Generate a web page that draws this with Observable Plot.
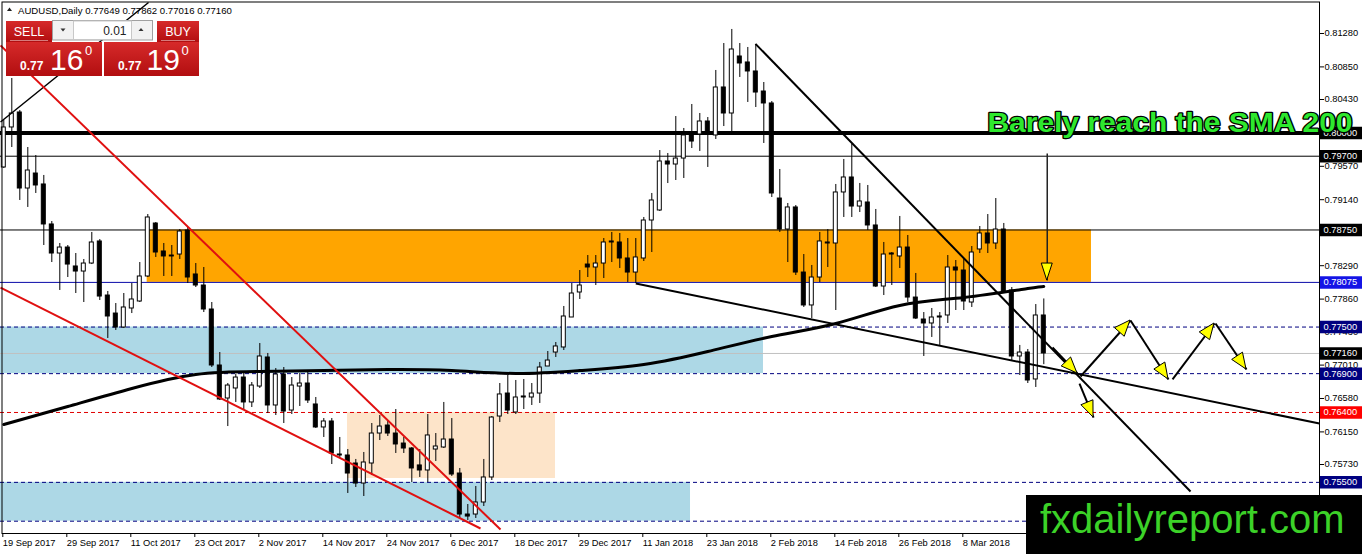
<!DOCTYPE html>
<html>
<head>
<meta charset="utf-8">
<script src="https://cdn.jsdelivr.net/npm/d3@7"></script>
<script src="https://cdn.jsdelivr.net/npm/@observablehq/plot@0.6"></script>
<style>
  body { margin: 0; background: #fff; }
  #wrap { position: relative; width: 1362px; height: 554px; overflow: hidden; }
  #over { position: absolute; left: 0; top: 0; pointer-events: none; }
  #chart svg { display: block; }
</style>
</head>
<body>
<div id="wrap">
  <div id="chart"></div>
  <svg id="over" width="1362" height="554" font-family="'Liberation Sans', Arial, sans-serif"></svg>
</div>
<script>
// ---------- DATA ----------
const symbol = "AUDUSD,Daily";
const dateLabels = ["19 Sep 2017","29 Sep 2017","11 Oct 2017","23 Oct 2017","2 Nov 2017","14 Nov 2017",
  "24 Nov 2017","6 Dec 2017","18 Dec 2017","29 Dec 2017","11 Jan 2018","23 Jan 2018","2 Feb 2018",
  "14 Feb 2018","26 Feb 2018","8 Mar 2018"];
const barsPerLabel = 8;

const opens = [
0.79555,0.80070,0.80263,0.79284,0.79477,0.79336,0.78821,0.78447,0.78524,0.78280,
0.78215,0.78318,0.78602,0.77906,0.77674,0.77494,0.77739,0.77829,0.78151,0.78833,
0.78473,0.78421,0.78434,0.78743,0.78177,0.78035,0.77726,0.77005,0.76580,0.76709,
0.76850,0.76529,0.76734,0.77108,0.76490,0.76889,0.76425,0.76734,0.76773,0.76503,
0.76207,0.76284,0.75859,0.75846,0.75743,0.75485,0.75743,0.76129,0.76232,0.76129,
0.76000,0.75936,0.75718,0.75653,0.75923,0.75949,0.76052,0.75614,0.75086,0.75086,
0.75241,0.75563,0.76348,0.76644,0.76400,0.76593,0.76593,0.76644,0.76992,0.77172,
0.77237,0.77623,0.77945,0.78305,0.78267,0.78318,0.78589,0.78589,0.78383,0.78202,
0.78383,0.78872,0.79001,0.79632,0.79593,0.79670,0.79967,0.79980,0.80147,0.79967,
0.80585,0.80250,0.80984,0.80907,0.80791,0.80533,0.80379,0.79155,0.78756,0.79040,
0.78202,0.77778,0.78138,0.78576,0.78576,0.79233,0.79426,0.79052,0.79104,0.78808,
0.78022,0.78447,0.78409,0.78524,0.77880,0.77597,0.77546,0.77623,0.77649,0.78267,
0.78228,0.77816,0.78499,0.78705,0.78576,0.78756,0.77971,0.77121,0.77172,0.76825,
0.77649];
const highs = [
0.80160,0.80701,0.80289,0.79812,0.79709,0.79452,0.78859,0.78576,0.78550,0.78447,
0.78370,0.78718,0.78627,0.77958,0.77803,0.77932,0.78061,0.78331,0.78949,0.78846,
0.78576,0.78550,0.78756,0.78782,0.78318,0.78267,0.77816,0.77172,0.76773,0.76889,
0.76902,0.76786,0.77288,0.77160,0.76966,0.76979,0.76850,0.76902,0.76915,0.76593,
0.76322,0.76322,0.76078,0.75923,0.75795,0.75885,0.76258,0.76361,0.76297,0.76438,
0.76078,0.75949,0.75923,0.76374,0.76129,0.76529,0.76322,0.75679,0.75215,0.75447,
0.75795,0.76348,0.76773,0.76876,0.76812,0.76825,0.76773,0.77044,0.77185,0.77301,
0.77765,0.78061,0.78228,0.78421,0.78421,0.78640,0.78718,0.78705,0.78640,0.78640,
0.78911,0.79220,0.79773,0.79735,0.80211,0.80057,0.80366,0.80250,0.80198,0.80804,
0.81151,0.81332,0.81151,0.81100,0.81138,0.80649,0.80404,0.79529,0.79091,0.79065,
0.78434,0.78293,0.78718,0.78756,0.79336,0.79658,0.79851,0.79349,0.79323,0.79014,
0.78589,0.78460,0.78924,0.78679,0.78190,0.77687,0.77739,0.77687,0.78421,0.78357,
0.78370,0.78537,0.78795,0.78949,0.79155,0.78834,0.78009,0.77263,0.77211,0.77790,
0.77862];
const lows = [
0.79542,0.79812,0.79130,0.79040,0.79220,0.78550,0.78331,0.77971,0.78138,0.77932,
0.77816,0.78305,0.77842,0.77353,0.77456,0.77481,0.77674,0.77816,0.78138,0.78396,
0.78151,0.78151,0.78370,0.78061,0.78009,0.77687,0.76979,0.76554,0.76219,0.76529,
0.76425,0.76464,0.76709,0.76387,0.76361,0.76258,0.76374,0.76477,0.76516,0.76194,
0.76078,0.75730,0.75807,0.75357,0.75434,0.75318,0.75588,0.76039,0.76091,0.75872,
0.75872,0.75498,0.75563,0.75498,0.75769,0.75936,0.75576,0.75035,0.75009,0.75035,
0.75189,0.75524,0.76271,0.76374,0.76374,0.76438,0.76490,0.76516,0.76992,0.77108,
0.77198,0.77623,0.77855,0.78138,0.78035,0.78125,0.78331,0.78254,0.78074,0.78061,
0.78344,0.78460,0.78988,0.79348,0.79387,0.79413,0.79799,0.79761,0.79555,0.79915,
0.80082,0.80018,0.80714,0.80392,0.80327,0.79864,0.79168,0.78718,0.78331,0.78164,
0.77752,0.77610,0.78074,0.78267,0.77713,0.78911,0.78911,0.78975,0.78743,0.78009,
0.77906,0.78035,0.78254,0.77816,0.77597,0.77121,0.77366,0.77263,0.77546,0.77713,
0.77713,0.77752,0.78447,0.78447,0.78499,0.77932,0.77069,0.76876,0.76773,0.76722,
0.77016];
const closes = [
0.80070,0.80250,0.79284,0.79516,0.79323,0.78821,0.78447,0.78524,0.78305,0.78215,
0.78318,0.78589,0.77893,0.77636,0.77494,0.77752,0.77855,0.78151,0.78911,0.78460,
0.78409,0.78409,0.78730,0.78138,0.78035,0.77726,0.77005,0.76567,0.76747,0.76850,
0.76529,0.76747,0.77121,0.76490,0.76889,0.76412,0.76747,0.76773,0.76554,0.76207,
0.76284,0.75872,0.75846,0.75614,0.75485,0.75756,0.76129,0.76219,0.76129,0.75988,
0.75936,0.75679,0.75653,0.76104,0.75962,0.76052,0.75601,0.75086,0.75060,0.75241,
0.75563,0.76335,0.76632,0.76425,0.76593,0.76606,0.76644,0.76979,0.77069,0.77250,
0.77636,0.77932,0.78035,0.78267,0.78318,0.78589,0.78602,0.78383,0.78202,0.78396,
0.78872,0.79130,0.79632,0.79593,0.79670,0.79967,0.79889,0.80147,0.79992,0.80585,
0.80250,0.81074,0.80894,0.80791,0.80520,0.80379,0.79220,0.78756,0.79040,0.78202,
0.77778,0.78138,0.78602,0.78589,0.79233,0.79426,0.79052,0.79117,0.78808,0.78022,
0.78434,0.78434,0.78524,0.77880,0.77610,0.77546,0.77623,0.77636,0.78267,0.78228,
0.77829,0.78460,0.78705,0.78576,0.78756,0.77945,0.77121,0.77172,0.76812,0.77649,
0.77160];

// SMA 200 at a few bars
const smaBars   = [0, 8, 16, 24, 32, 40, 48, 56, 64, 72, 80, 88, 96, 104, 112, 120, 128, 130];
const smaValues = [0.76245,0.76477,0.76709,0.76889,0.76928,0.76940,0.76953,0.76940,0.76902,
                   0.76940,0.77018,0.77185,0.77378,0.77546,0.77778,0.77881,0.77996,0.78022];

// price axis ticks (the ones visible in the reference)
const yTicks = [0.7573,0.7615,0.7658,0.7701,0.7743,0.7786,0.7829,0.7914,0.7957,0.8043,0.8085,0.8128];

// zones (bar index from/to, price top/bottom)
const zoneFrom   = [17.92, -0.41, -0.41, 42.96];
const zoneTo     = [135.96, 94.96, 85.84, 68.96];
const zoneTop    = [0.7875, 0.7750, 0.7550, 0.7640];
const zoneBottom = [0.78075, 0.7690, 0.7500, 0.7555];
const zoneColors = ["#ffa500", "#add8e6", "#add8e6", "#fde4c9"];

// horizontal levels
const levelThick  = [0.8000];
const levelBlack  = [0.7970, 0.7875];
const levelBlue   = [0.78075];
const levelNavyDash = [0.7750, 0.7690, 0.7550, 0.7500];
const levelRedDash  = [0.7640];
const levelBid    = [0.7716];

// right-axis price labels (visible ones)
const labelPrices = [0.8000, 0.7970, 0.7875, 0.78075, 0.7750, 0.7716, 0.7690, 0.7640, 0.7550];
const labelColors = ["#000", "#000", "#000", "#1414e6", "#000080", "#000", "#000080", "#ff0000", "#000080"];

// trend lines (bar index, price)
const tlX1 = [-0.41, -0.41, -0.41, 93.96, 79.00];
const tlY1 = [0.80140, 0.81126, 0.78009, 0.81147, 0.78061];
const tlX2 = [18.09, 62.09, 59.59, 148.34, 164.46];
const tlY2 = [0.81679, 0.74893, 0.74906, 0.75382, 0.76258];
const tlColors = ["#000", "#e01010", "#e01010", "#000", "#000"];
const tlWidths = [1.5, 2, 2, 2, 2];

// forecast arrows (tail -> tip)
const arX1 = [131.09, 134.59, 140.84, 146.09, 151.46, 134.46];
const arY1 = [0.77237, 0.76863, 0.77584, 0.76825, 0.77546, 0.76773];
const arX2 = [134.21, 140.84, 145.59, 151.34, 155.34, 136.22];
const arY2 = [0.76902, 0.77584, 0.76825, 0.77546, 0.76953, 0.76335];

// callout arrow from the note down to the SMA
const noteText = "Barely reach the SMA 200";
const noteAt = {x: 122.96, y: 0.80018};
const callout = {x1: 130.43, y1: 0.79735, x2: 130.43, y2: 0.78099};
const watermark = "fxdailyreport.com";

// ---------- BUILD ----------
const fmt = d3.format(".5f");
const candles = opens.map((o, i) => ({i, o, h: highs[i], l: lows[i], c: closes[i]}));
const zones = zoneFrom.map((x1, k) => ({x1, x2: zoneTo[k], top: zoneTop[k], bottom: zoneBottom[k], color: zoneColors[k]}));
const sma = smaBars.map((i, k) => ({i, v: smaValues[k]}));
const trend = tlX1.map((x1, k) => ({x1, y1: tlY1[k], x2: tlX2[k], y2: tlY2[k], color: tlColors[k], w: tlWidths[k]}));
const arrows = arX1.map((x1, k) => ({x1, y1: arY1[k], x2: arX2[k], y2: arY2[k]}));
const plabels = labelPrices.map((p, k) => ({p, bg: labelColors[k]}));
const xTicks = dateLabels.map((_, k) => k * barsPerLabel);
const last = candles[candles.length - 1];

const font = "'Liberation Sans', Arial, sans-serif";
const chart = Plot.plot({
  width: 1362, height: 554,
  marginTop: 0, marginRight: 43, marginBottom: 21, marginLeft: 0,
  x: {type: "linear", domain: [-0.4125, 164.4625], axis: null},
  y: {type: "linear", domain: [0.748416, 0.81705], axis: null},
  color: {type: "identity"},
  style: {background: "white", fontFamily: font, fontSize: "9.3px", overflow: "visible", color: "black"},
  marks: [
    Plot.rect(zones, {x1: "x1", x2: "x2", y1: "bottom", y2: "top", fill: "color"}),
    Plot.ruleY(levelThick, {stroke: "black", strokeWidth: 4}),
    Plot.ruleY(levelBlack, {stroke: "black", strokeWidth: 1}),
    Plot.ruleY(levelBlue, {stroke: "#0a0aa8", strokeWidth: 1}),
    Plot.ruleY(levelNavyDash, {stroke: "#000080", strokeWidth: 1, strokeDasharray: "4,3"}),
    Plot.ruleY(levelRedDash, {stroke: "#e00000", strokeWidth: 1, strokeDasharray: "4,3"}),
    Plot.ruleY(levelBid, {stroke: "#c0c0c0", strokeWidth: 1}),
    Plot.ruleX(candles, {x: "i", y1: "l", y2: "h", stroke: "black", strokeWidth: 1}),
    Plot.rect(candles, {
      x1: d => d.i - 0.25, x2: d => d.i + 0.25,
      y1: d => Math.min(d.o, d.c),
      y2: d => Math.max(d.o, d.c, Math.min(d.o, d.c) + 0.00008),
      fill: d => d.c >= d.o ? "white" : "black", stroke: "black", strokeWidth: 1
    }),
    Plot.line(sma, {x: "i", y: "v", stroke: "black", strokeWidth: 3, curve: "natural"}),
    Plot.link(trend, {x1: "x1", y1: "y1", x2: "x2", y2: "y2", stroke: "color", strokeWidth: "w"}),
    Plot.link(arrows, {x1: "x1", y1: "y1", x2: "x2", y2: "y2", stroke: "black", strokeWidth: 2}),
    Plot.link([callout], {x1: "x1", y1: "y1", x2: "x2", y2: "y2", stroke: "#222", strokeWidth: 1.5}),
    Plot.frame({stroke: "black", insetLeft: 1.5, insetTop: 1.5}),
    Plot.axisY(yTicks, {anchor: "right", tickSize: 4, tickPadding: 1, tickFormat: fmt, label: null, fontSize: 9.3}),
    Plot.axisX(xTicks, {anchor: "bottom", tickSize: 4, tickPadding: 2, tickFormat: d => dateLabels[d / barsPerLabel],
      textAnchor: "start", dx: -1, label: null, fontSize: 9.3}),
    Plot.ruleY(plabels, {y: "p", stroke: "bg", strokeWidth: 12.5, insetLeft: 1320, insetRight: -43}),
    Plot.text(plabels, {y: "p", text: d => fmt(d.p), frameAnchor: "right", textAnchor: "start", dx: 4,
      fill: "white", fontSize: 9.3}),
    Plot.text([noteText], {x: () => noteAt.x, y: () => noteAt.y, text: d => d, textAnchor: "start", lineAnchor: "bottom",
      fill: "#2ee82e", stroke: "black", strokeWidth: 2.6, fontSize: 27, fontWeight: "bold",
      fontFamily: "'Liberation Sans', Arial, sans-serif"})
  ]
});
document.getElementById("chart").appendChild(chart);

// arrowheads through the plot's own scales
const sx = chart.scale("x"), sy = chart.scale("y");
const g = d3.select(chart).append("g");
function head(a, L, w) {
  const x0 = sx.apply(a.x1), y0 = sy.apply(a.y1), x1 = sx.apply(a.x2), y1 = sy.apply(a.y2);
  const dx = x1 - x0, dy = y1 - y0, len = Math.hypot(dx, dy), ux = dx / len, uy = dy / len;
  const bx = x1 - L * ux, by = y1 - L * uy;
  const pts = [[x1, y1], [bx - w * uy, by + w * ux], [bx + w * uy, by - w * ux]];
  g.append("polygon").attr("points", pts.map(p => p.join(",")).join(" "))
    .attr("fill", "#ffff00").attr("stroke", "#000").attr("stroke-width", 1);
}
arrows.forEach(a => head(a, 16, 6.5));
head(callout, 17, 5.5);
d3.select(chart).selectAll("text").filter(function() { return this.textContent === noteText; })
  .attr("textLength", 365).attr("lengthAdjust", "spacingAndGlyphs");

// ---------- overlays: trade panel, header, watermark ----------
const ov = d3.select("#over");
const defs = ov.append("defs");
const lg = defs.append("linearGradient").attr("id", "rg").attr("x1", 0).attr("y1", 0).attr("x2", 0).attr("y2", 1);
lg.append("stop").attr("offset", 0).attr("stop-color", "#d62a2a");
lg.append("stop").attr("offset", 1).attr("stop-color", "#b20e10");

ov.append("path").attr("d", "M7,11 L12,11 L9.5,7.5 Z").attr("fill", "#222");
ov.append("text").attr("x", 18).attr("y", 13.5).attr("font-size", 9.6).attr("fill", "#000")
  .text(`${symbol}  ${fmt(last.o)} ${fmt(last.h)} ${fmt(last.l)} ${fmt(last.c)}`);

[[6, 46, 6, 96], [157, 42, 104, 95]].forEach(([tx, tw, bx, bw]) => {
  ov.append("rect").attr("x", tx).attr("y", 21).attr("width", tw).attr("height", 21).attr("fill", "url(#rg)");
  ov.append("rect").attr("x", bx).attr("y", 42).attr("width", bw).attr("height", 34).attr("fill", "url(#rg)");
  ov.append("line").attr("x1", tx + 4).attr("x2", tx + tw - 4).attr("y1", 40.5).attr("y2", 40.5)
    .attr("stroke", "rgba(255,255,255,0.45)");
});
ov.append("text").attr("x", 29).attr("y", 35.5).attr("text-anchor", "middle").attr("font-size", 12.5).attr("fill", "#fff").text("SELL");
ov.append("text").attr("x", 178).attr("y", 35.5).attr("text-anchor", "middle").attr("font-size", 12.5).attr("fill", "#fff").text("BUY");
[[20, 50, 85, "16"], [118, 146.5, 181.5, "19"]].forEach(([a, b, c, big]) => {
  ov.append("text").attr("x", a).attr("y", 69.5).attr("font-size", 12).attr("font-weight", "bold").attr("fill", "#fff").text("0.77");
  ov.append("text").attr("x", b).attr("y", 70).attr("font-size", 30).attr("fill", "#fff").text(big);
  ov.append("text").attr("x", c).attr("y", 55).attr("font-size", 13).attr("fill", "#fff").text("0");
});
ov.append("rect").attr("x", 52.5).attr("y", 20.5).attr("width", 100).attr("height", 19.5).attr("fill", "#f2f2f2").attr("stroke", "#a0a0a0");
ov.append("rect").attr("x", 73.5).attr("y", 21).attr("width", 58).attr("height", 18.5).attr("fill", "#fff").attr("stroke", "#c8c8c8");
ov.append("path").attr("d", "M60.5,28.5 L65.5,28.5 L63,31.5 Z").attr("fill", "#333");
ov.append("path").attr("d", "M138.5,31 L143.5,31 L141,28 Z").attr("fill", "#333");
ov.append("text").attr("x", 126.5).attr("y", 34.5).attr("text-anchor", "end").attr("font-size", 12).attr("fill", "#222").text("0.01");

ov.append("rect").attr("x", 1026).attr("y", 495).attr("width", 336).attr("height", 59).attr("fill", "#000");
ov.append("text").attr("x", 1040).attr("y", 533).attr("font-size", 40).attr("fill", "#3cd228").text(watermark);
</script>
</body>
</html>
